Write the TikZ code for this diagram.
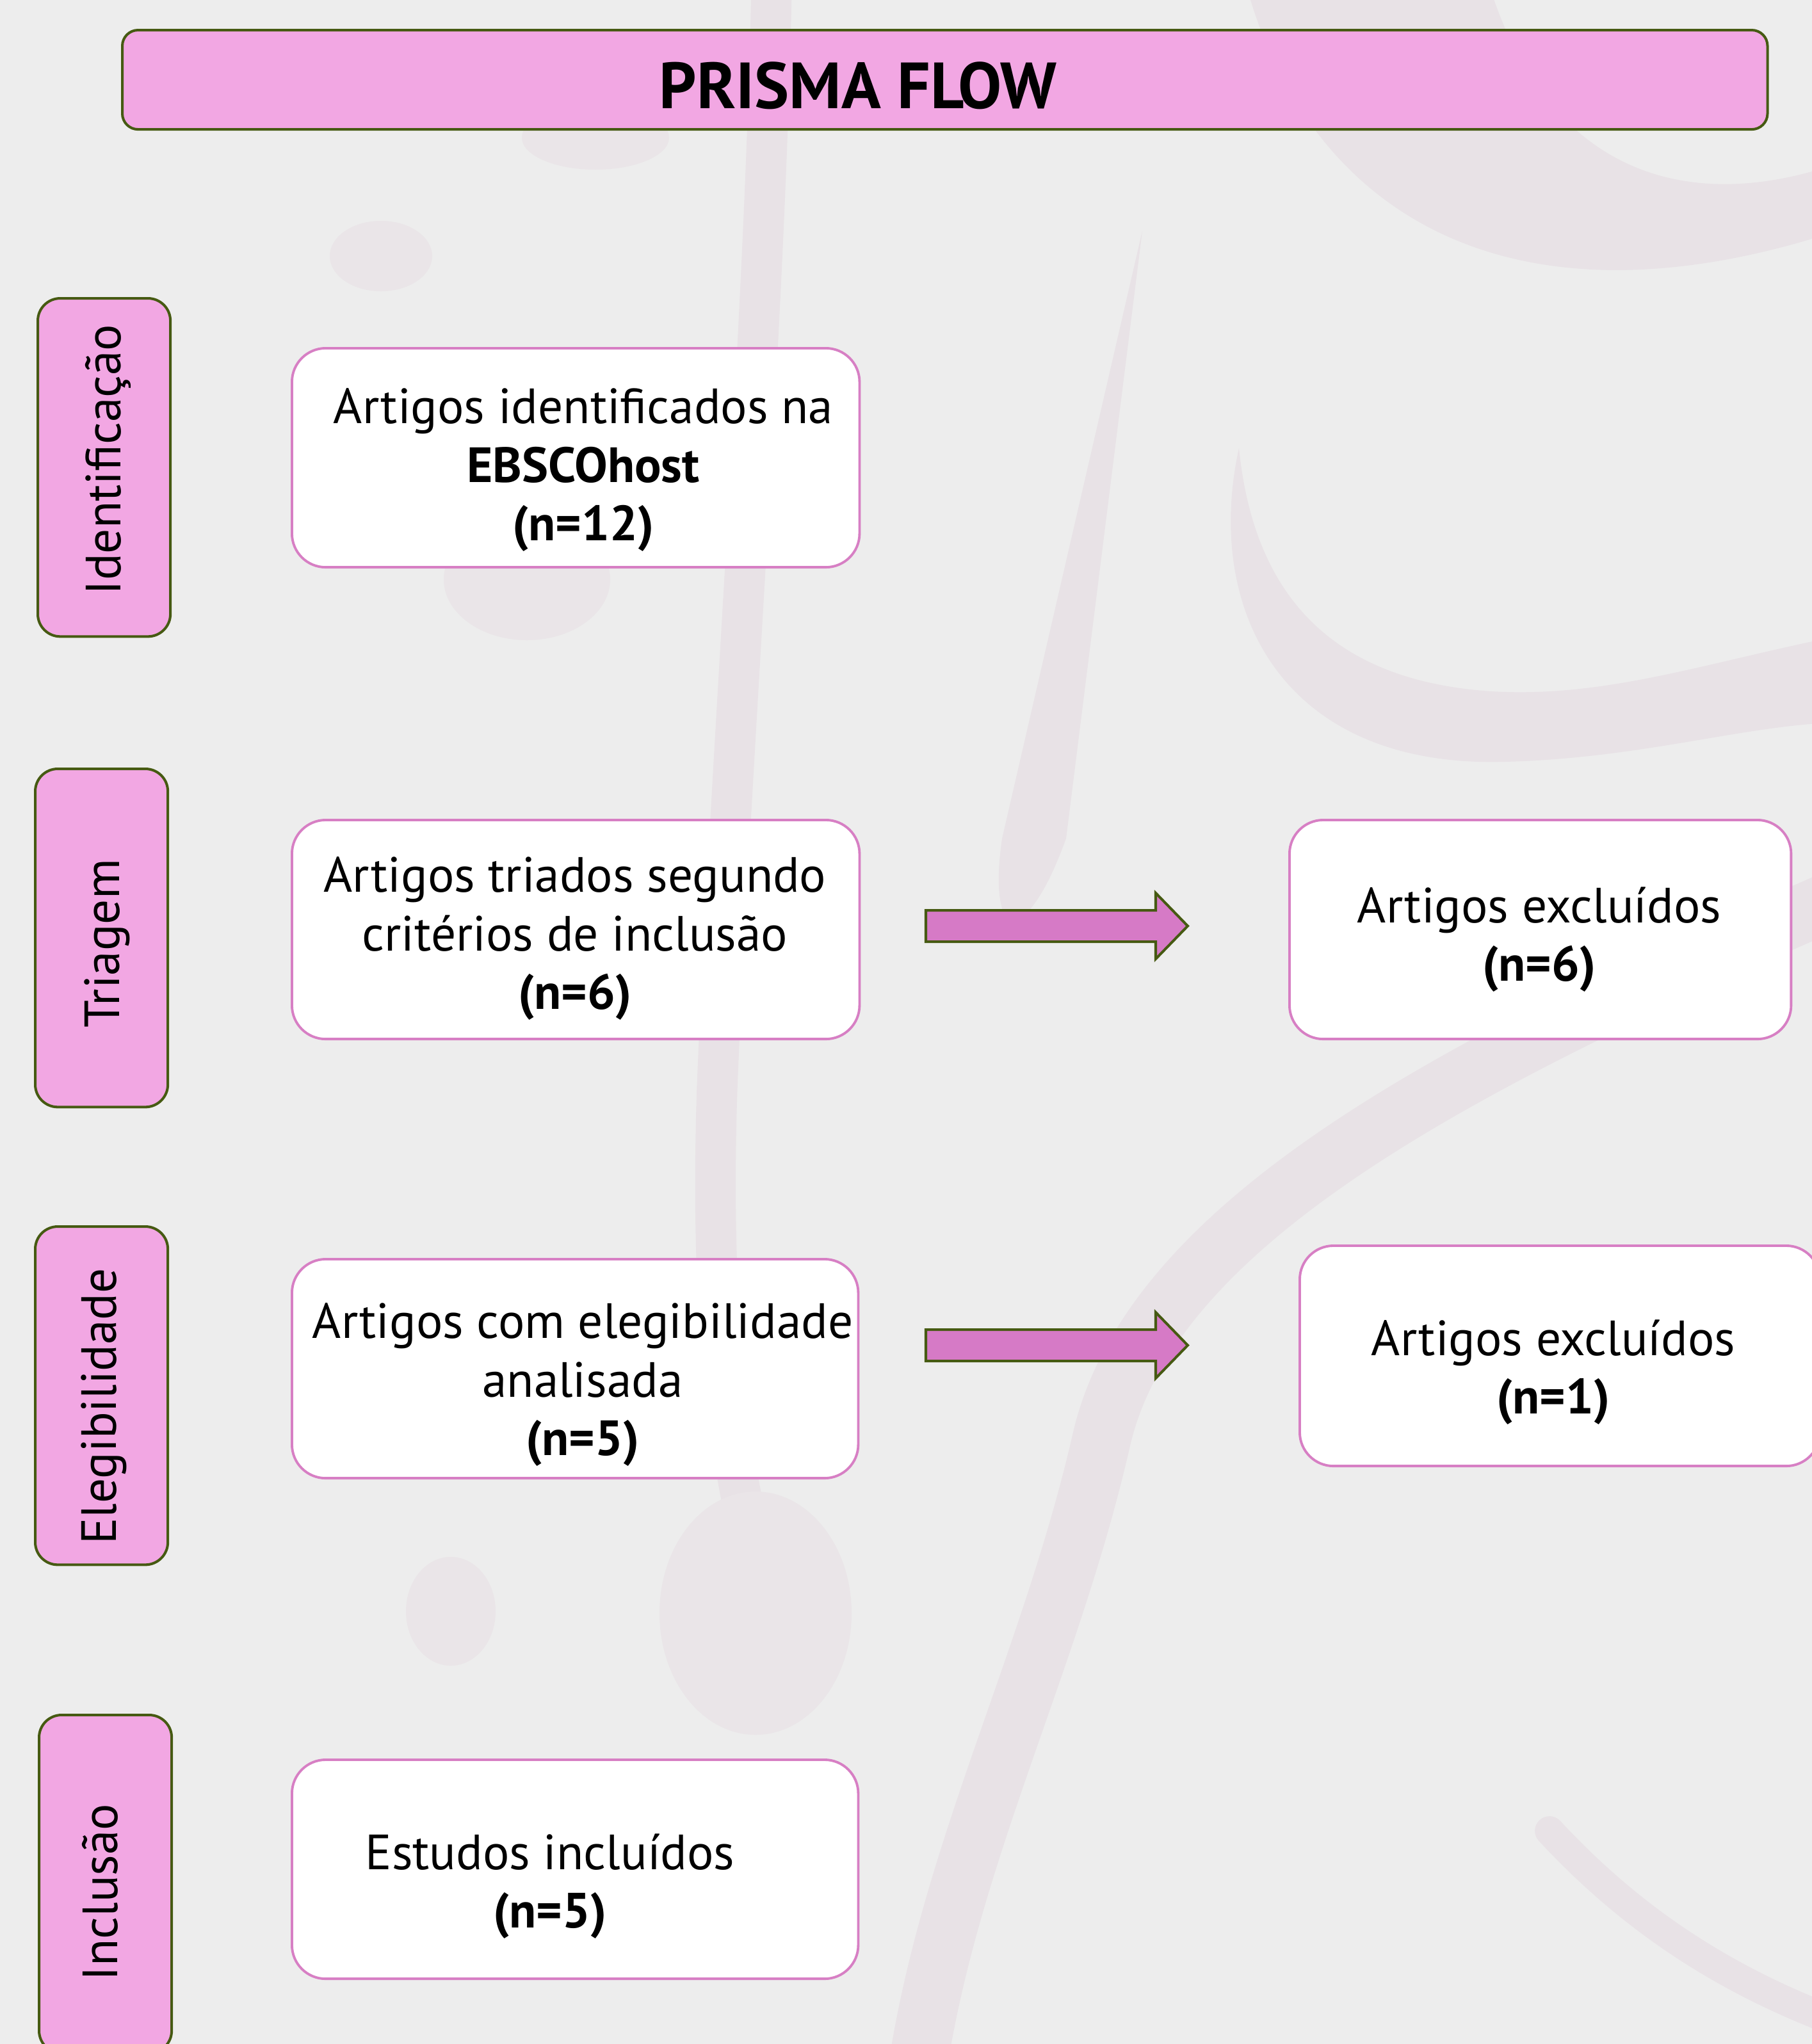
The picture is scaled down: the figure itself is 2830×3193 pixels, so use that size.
\documentclass[tikz,border=0pt]{standalone}
\usepackage{fontspec}
\setmainfont{PT Sans}
\usetikzlibrary{calc}
\definecolor{bgcol}{HTML}{EDEDED}
\definecolor{decor}{HTML}{E8E2E6}
\definecolor{decorlight}{HTML}{EAE5E8}
\definecolor{lightpink}{HTML}{F2A7E3}
\definecolor{olivedge}{HTML}{465A12}
\definecolor{arrowpink}{HTML}{D67AC6}
\definecolor{boxedge}{HTML}{D77FC4}
\newcommand\bxfont{\fontsize{22}{25.9}\selectfont}
\newcommand\ttlfont{\fontsize{29}{34}\selectfont\bfseries}
\begin{document}
\begin{tikzpicture}[x=0.01cm,y=-0.01cm,
  stagebox/.style={draw=olivedge, fill=lightpink, line width=1.15pt, rounded corners=10pt,
    minimum width=2.07cm, minimum height=5.28cm, inner sep=0pt, anchor=north west},
  itembox/.style={draw=boxedge, fill=white, line width=1.1pt, rounded corners=15pt,
    minimum height=3.42cm, inner sep=0pt, anchor=north west},
  itemtxt/.style={font=\bxfont, align=center, inner sep=0pt},
  stagetxt/.style={font=\bxfont, rotate=90, anchor=base, inner sep=0pt},
  blockarrow/.style={draw=olivedge, fill=arrowpink, line width=1.15pt, line join=miter},
  heart/.style={fill=decorlight}
]
\fill[bgcol] (0,0) rectangle (2830,3193);
\useasboundingbox (0,0) rectangle (2830,3193);

% faint background decoration
\begin{scope}
\clip (0,0) rectangle (2830,3193);
\draw[decor, line width=18pt, line cap=round] (1205,-20) .. controls (1195,500) and (1140,1200) .. (1120,1700) .. controls (1110,2000) and (1130,2200) .. (1160,2350);
\fill[heart] (1180,2520) ellipse [x radius=150, y radius=190];
\fill[heart] (704,2517) ellipse [x radius=70, y radius=85];
\fill[heart] (595,400) ellipse [x radius=80, y radius=55];
\fill[heart] (823,905) ellipse [x radius=130, y radius=95];
\fill[heart] (930,215) ellipse [x radius=115, y radius=50];
\fill[decor] (1784,361) -- (1565,1310) .. controls (1555,1380) and (1560,1420) .. (1575,1440) -- (1600,1430) .. controls (1630,1400) and (1650,1350) .. (1665,1310) -- cycle;
\fill[decor] (1950,-10) .. controls (2050,330) and (2350,520) .. (2840,370) -- (2840,265) .. controls (2620,330) and (2420,260) .. (2330,-10) -- cycle;
\fill[decor] (1935,700) .. controls (1880,950) and (2000,1200) .. (2350,1190) .. controls (2550,1185) and (2700,1140) .. (2840,1130) -- (2840,1000) .. controls (2650,1040) and (2500,1090) .. (2330,1080) .. controls (2100,1065) and (1960,950) .. (1935,700) -- cycle;
\draw[decor, line width=26pt] (2900,1390) .. controls (2300,1650) and (1800,1900) .. (1720,2250) .. controls (1640,2600) and (1480,2900) .. (1430,3250);
\draw[decor, line width=13pt, line cap=round] (2420,2860) .. controls (2550,3000) and (2700,3100) .. (2900,3170);
\end{scope}

% title
\node[draw=olivedge, fill=lightpink, line width=1.15pt, rounded corners=7pt, anchor=north west,
  minimum width=25.68cm, minimum height=1.55cm, inner sep=0pt] (title) at (189,45) {};
\node[font=\ttlfont, anchor=base, inner sep=0pt] (titletxt) at (1340,169) {PRISMA FLOW};

% stage labels
\node[stagebox] (s1) at (57,464) {};
\node[stagebox] (s2) at (53,1199) {};
\node[stagebox] (s3) at (53,1914) {};
\node[stagebox] (s4) at (59,2677) {};
\node[stagetxt] (s1t) at (188,718) {Identificação};
\node[stagetxt] (s2t) at (186,1474) {Triagem};
\node[stagetxt] (s3t) at (181,2197) {Elegibilidade};
\node[stagetxt] (s4t) at (183,2956) {Inclusão};

% item boxes
\node[itembox, minimum width=8.86cm] (b1) at (454,542) {};
\node[itembox, minimum width=8.86cm] (b2) at (454,1279) {};
\node[itembox, minimum width=7.83cm] (b3) at (2012,1279) {};
\node[itembox, minimum width=8.84cm] (b4) at (454,1965) {};
\node[itembox, minimum width=8.12cm, minimum height=3.44cm] (b5) at (2028,1944) {};
\node[itembox, minimum width=8.84cm] (b6) at (454,2747) {};

\node[itemtxt] (t1) at (911,734) {Artigos identificados na\\\textbf{EBSCOhost}\\\textbf{(n=12)}};
\node[itemtxt] (t2) at (898,1466) {Artigos triados segundo\\critérios de inclusão\\\textbf{(n=6)}};
\node[itemtxt] (t3) at (2404,1468) {Artigos excluídos\\\textbf{(n=6)}};
\node[itemtxt] (t4) at (910,2163) {Artigos com elegibilidade\\analisada\\\textbf{(n=5)}};
\node[itemtxt] (t5) at (2426,2144) {Artigos excluídos\\\textbf{(n=1)}};
\node[itemtxt] (t6) at (859,2947) {Estudos incluídos\\\textbf{(n=5)}};

% block arrows
\coordinate (ar1) at (1446,1446.5);
\coordinate (ar2) at (1446,2101.5);
\foreach \a in {ar1,ar2}{
  \draw[blockarrow] (\a) ++(0,-24.5) -- ++(359,0) -- ++(0,-27) -- ++(50,51.5) -- ++(-50,51.5) -- ++(0,-27) -- ++(-359,0) -- cycle;
}
\end{tikzpicture}
\end{document}
